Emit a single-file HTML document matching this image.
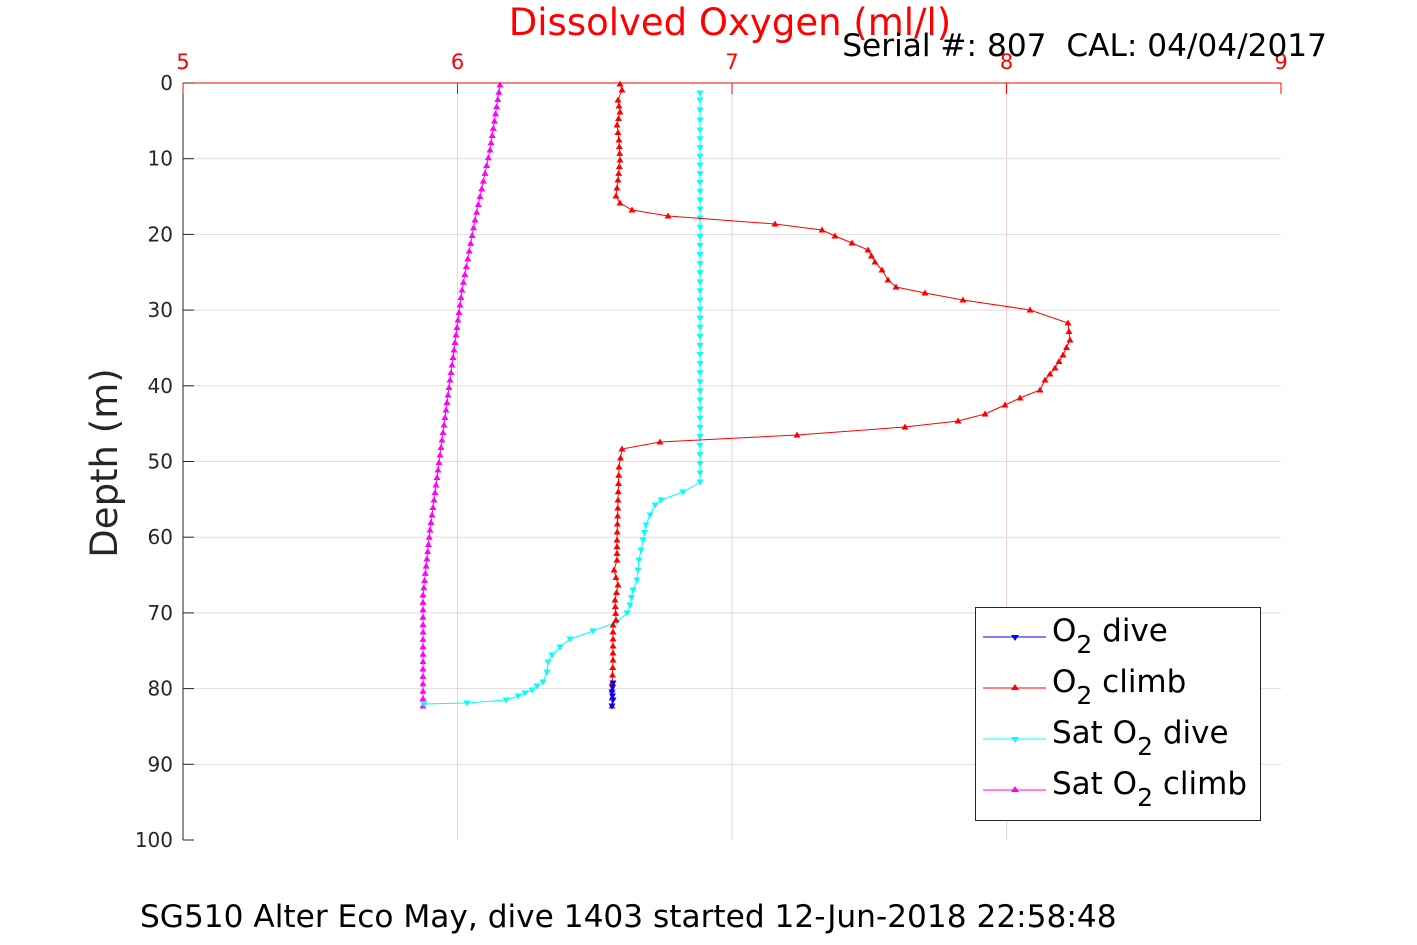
<!DOCTYPE html>
<html><head><meta charset="utf-8"><style>
html,body{margin:0;padding:0;background:#fff;}
svg{display:block;font-family:"DejaVu Sans","Liberation Sans",sans-serif;}
</style></head><body>
<svg id="s" width="1417" height="945" viewBox="0 0 1417 945" xmlns="http://www.w3.org/2000/svg">
<rect width="1417" height="945" fill="#fff"/>
<g id="grid"></g>
<g id="data"></g>
<g id="axes"></g>
<text x="730" y="35" font-size="37" fill="#ff0000" text-anchor="middle">Dissolved Oxygen (ml/l)</text>
<text x="1327" y="56" font-size="31.2" fill="#000" text-anchor="end">Serial #: 807&#160; CAL: 04/04/2017</text>
<text transform="translate(117,463) rotate(-90)" font-size="37" fill="#262626" text-anchor="middle">Depth (m)</text>
<text x="140" y="927" font-size="31.2" fill="#000">SG510 Alter Eco May, dive 1403 started 12-Jun-2018 22:58:48</text>
<g>
<rect x="975.5" y="607.5" width="285" height="213" fill="#fff" stroke="#262626" stroke-width="1"/>
<line x1="983" y1="637" x2="1046" y2="637" stroke="#0000ff"/><polygon points="1011,635 1019,635 1015,641" fill="#0000ff"/>
<line x1="983" y1="688" x2="1046" y2="688" stroke="#ff0000"/><polygon points="1011,690 1019,690 1015,684" fill="#ff0000"/>
<line x1="983" y1="739" x2="1046" y2="739" stroke="#00ffff"/><polygon points="1011,737 1019,737 1015,743" fill="#00ffff"/>
<line x1="983" y1="790" x2="1046" y2="790" stroke="#ff00ff"/><polygon points="1011,792 1019,792 1015,786" fill="#ff00ff"/>
<text x="1052" y="641" font-size="31">O<tspan font-size="25" dy="12">2</tspan><tspan dy="-12"> dive</tspan></text>
<text x="1052" y="692" font-size="31">O<tspan font-size="25" dy="12">2</tspan><tspan dy="-12"> climb</tspan></text>
<text x="1052" y="743" font-size="31">Sat O<tspan font-size="25" dy="12">2</tspan><tspan dy="-12"> dive</tspan></text>
<text x="1052" y="794" font-size="31">Sat O<tspan font-size="25" dy="12">2</tspan><tspan dy="-12"> climb</tspan></text>
</g>
</svg>
<script>
var NS="http://www.w3.org/2000/svg";
function el(p,t,a){var e=document.createElementNS(NS,t);for(var k in a)e.setAttribute(k,a[k]);p.appendChild(e);return e;}
var L=183,R=1281,T=83,B=840;
var g=document.getElementById('grid'),ax=document.getElementById('axes'),d=document.getElementById('data');
for(var i=1;i<10;i++){var y=T+(B-T)*i/10;el(g,'line',{x1:L,x2:R,y1:y,y2:y,stroke:'#dedede','stroke-width':1});}
for(var i=1;i<4;i++){var x=L+(R-L)*i/4;el(g,'line',{x1:x,x2:x,y1:T,y2:B,stroke:'#f5d0d0','stroke-width':1});}
el(ax,'line',{x1:L,x2:L,y1:T,y2:B,stroke:'#262626'});
el(ax,'line',{x1:L,x2:R,y1:T,y2:T,stroke:'#ff0000'});
for(var i=0;i<=10;i++){var y=T+(B-T)*i/10;el(ax,'line',{x1:L,x2:L+11,y1:y,y2:y,stroke:'#262626'});
 var t=el(ax,'text',{x:173,y:y+7,'font-size':20,fill:'#262626','text-anchor':'end'});t.textContent=i*10;}
for(var i=0;i<=4;i++){var x=L+(R-L)*i/4;el(ax,'line',{x1:x,x2:x,y1:T,y2:T+11,stroke:'#ff0000'});
 var t=el(ax,'text',{x:x,y:69,'font-size':21,fill:'#ff0000','text-anchor':'middle'});t.textContent=5+i;}
function series(pts,col,up,step){
 var s=pts.map(function(p){return p.join(',')}).join(' ');
 el(d,'polyline',{points:s,fill:'none',stroke:col,'stroke-width':1});
 var out=[];
 for(var i=0;i<pts.length-1;i++){var a=pts[i],b=pts[i+1];var dist=Math.hypot(b[0]-a[0],b[1]-a[1]);var n=Math.max(1,Math.round(Math.abs(b[1]-a[1])/step));if(dist>40&&Math.abs(b[1]-a[1])<15)n=1;
  for(var k=0;k<n;k++){out.push([a[0]+(b[0]-a[0])*k/n,a[1]+(b[1]-a[1])*k/n]);}}
 out.push(pts[pts.length-1]);
 out.forEach(function(p){var x=p[0],y=p[1];var q=up?[[x-3.5,y+2.5],[x+3.5,y+2.5],[x,y-3.5]]:[[x-3.5,y-2.5],[x+3.5,y-2.5],[x,y+3.5]];
  el(d,'polygon',{points:q.map(function(v){return v.join(',')}).join(' '),fill:col});});
}
var mag=[[500,85],[490,150],[475,220],[462,290],[450,380],[438,470],[430,530],[423,595],[423,706]];
series(mag,'#ff00ff',true,7.5);
var cy=[[700,93],[700,100],[700,130],[700,200],[700,300],[700,400],[700,482],[683,492],[661,500],[655,505],[650,515],[646,525],[643,540],[639,560],[637,580],[633,590],[630,605],[627,613],[617,622],[593,631],[570,639],[560,647],[552,655],[548,662],[547,672],[543,682],[537,686],[532,690],[525,693],[518,696],[506,700],[467,703],[424,704]];
series(cy,'#00ffff',false,9);
var red=[[620,84],[622,90],[618,100],[620,112],[617,125],[619,140],[620,160],[618,180],[616,196],[620,203],[632,210],[668,216],[775,224],[822,230],[835,236],[852,243],[868,250],[875,262],[882,270],[888,280],[896,287],[925,293],[963,300],[1030,310],[1068,323],[1070,340],[1063,355],[1055,368],[1045,380],[1040,390],[1020,398],[1005,405],[985,414],[958,421],[905,427],[797,435],[660,442],[622,449],[619,467],[618,500],[617,540],[617,560],[614,570],[618,585],[615,600],[616,620],[613,625],[613,660],[612,690],[612,706]];
series(red,'#ff0000',true,7.5);
series([[613,683],[612,692],[613,700],[612,706]],'#0000ff',false,5);
</script>
</body></html>
